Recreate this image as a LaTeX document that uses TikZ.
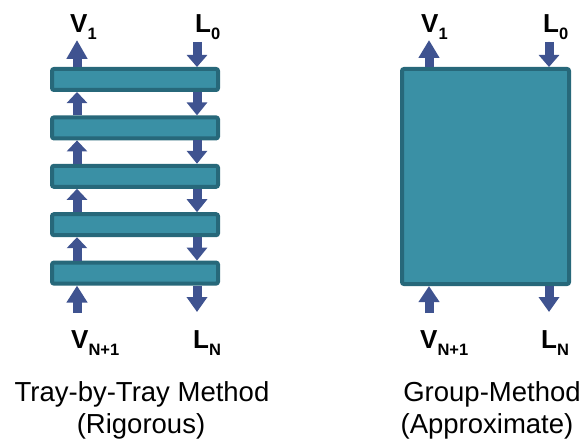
\documentclass[tikz,border=0pt]{standalone}
\usepackage{fontspec}
\setmainfont{Liberation Sans}
\usetikzlibrary{arrows.meta,calc}
\definecolor{trayfill}{HTML}{3A90A5}
\definecolor{trayedge}{HTML}{27687A}
\definecolor{arrowc}{HTML}{3F5390}
\newcommand{\lblfont}{\fontsize{26}{26}\selectfont\bfseries}
\newcommand{\subl}[1]{\raisebox{-7pt}{\fontsize{16.5}{16.5}\selectfont\bfseries #1}}
\begin{document}
\begin{tikzpicture}[x=1pt,y=-1pt,
  traybox/.style={draw=trayedge, fill=trayfill, line width=4pt, rounded corners=2pt,
    minimum width=166pt, minimum height=21pt, inner sep=0pt},
  bigbox/.style={draw=trayedge, fill=trayfill, line width=4pt, rounded corners=2pt,
    minimum width=167pt, minimum height=215pt, inner sep=0pt},
  flowarrow/.style={draw=arrowc, line width=9pt, -{Triangle[length=#1, width=20pt]}},
  flowarrow/.default=13pt,
  lbl/.style={inner sep=0pt, anchor=base west, font=\lblfont},
  captext/.style={inner sep=0pt, anchor=base, font=\fontsize{27.5}{33}\selectfont}]
\useasboundingbox (0,0) rectangle (585,441);
% left column trays
\foreach \i/\y in {1/79.5,2/127.9,3/176.3,4/224.7,5/273.1}{
  \node[traybox] (t\i) at (135,\y) {};
}
% right big box
\node[bigbox] (g) at (485.5,176.5) {};
% free ends
\coordinate (v1top) at (77,40);
\coordinate (l0top) at (197,42);
\coordinate (vnbot) at (77,313);
\coordinate (lnbot) at (197,312);
\coordinate (gv1top) at (429,40);
\coordinate (gl0top) at (549,42);
\coordinate (gvnbot) at (429,313);
\coordinate (glnbot) at (549,312);
% left arrows
\draw[flowarrow=19pt] ($(t1.north west)+(27,0)$) -- (v1top);
\draw[flowarrow=12pt] (l0top) -- ($(t1.north east)+(-23,0)$);
\foreach \a/\b in {1/2,2/3,3/4,4/5}{
  \draw[flowarrow=11pt] ($(t\b.north west)+(27,0)$) -- ($(t\a.south west)+(27,0)$);
  \draw[flowarrow=13pt] ($(t\a.south east)+(-23,0)$) -- ($(t\b.north east)+(-23,0)$);
}
\draw[flowarrow=17pt] (vnbot) -- ($(t5.south west)+(27,0)$);
\draw[flowarrow=15pt] ($(t5.south east)+(-23,0)$) -- (lnbot);
% right arrows
\draw[flowarrow=18pt] ($(g.north west)+(29,0)$) -- (gv1top);
\draw[flowarrow=12pt] (gl0top) -- ($(g.north east)+(-22,0)$);
\draw[flowarrow=16pt] (gvnbot) -- ($(g.south west)+(29,0)$);
\draw[flowarrow=15pt] ($(g.south east)+(-22,0)$) -- (glnbot);
% labels
\node[lbl] (lv1) at (70,33) {V\subl{1}};
\node[lbl] (ll0) at (195,33) {L\subl{0}};
\node[lbl] (lvn) at (71,348) {V\subl{N+1}};
\node[lbl] (lln) at (193,348) {L\subl{N}};
\node[lbl] (gv1) at (421,33) {V\subl{1}};
\node[lbl] (gl0) at (543,33) {L\subl{0}};
\node[lbl] (gvn) at (420,348) {V\subl{N+1}};
\node[lbl] (gln) at (541,348) {L\subl{N}};
% captions
\node[captext] (c1a) at (142,401) {Tray-by-Tray Method};
\node[captext] (c1b) at (141,433) {(Rigorous)};
\node[captext] (c2a) at (492,401) {Group-Method};
\node[captext] (c2b) at (487,433) {(Approximate)};
\end{tikzpicture}
\end{document}
